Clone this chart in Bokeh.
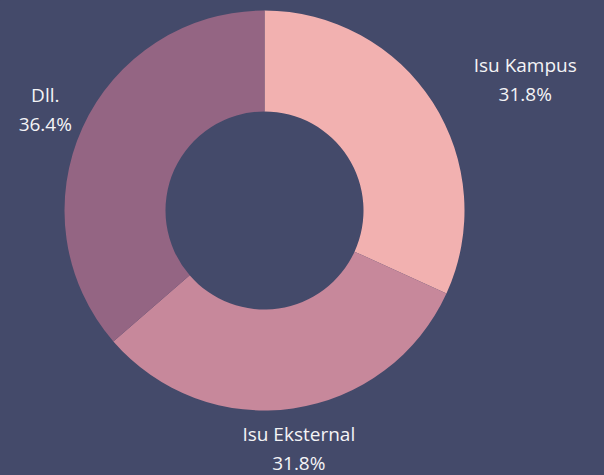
import math
from bokeh.plotting import figure
from bokeh.models import ColumnDataSource, Range1d
from bokeh.core.properties import value
from bokeh.embed import file_html
from bokeh.resources import INLINE

# ---- data ----
categories = ["Isu Kampus", "Isu Eksternal", "Dll."]
counts = [7, 7, 8]
colors = ["#F2B1B0", "#C7889B", "#946583"]

BG = "#444A6A"
W, H = 604, 475
CX, CY = 264, H - 210
R_OUT, R_IN, R_LAB = 200, 99, 241

total = sum(counts)
fracs = [c / total for c in counts]
starts, ends, mids = [], [], []
acc = 0.0
for f in fracs:
    a0 = acc * 2 * math.pi
    a1 = (acc + f) * 2 * math.pi
    starts.append(math.pi / 2 - a0)
    ends.append(math.pi / 2 - a1)
    mids.append(math.pi / 2 - (a0 + a1) / 2)
    acc += f

src = ColumnDataSource(dict(
    start=starts, end=ends, color=colors,
    x=[CX] * len(counts), y=[CY] * len(counts)))

p = figure(width=W, height=H, output_backend="svg", toolbar_location=None,
           x_range=Range1d(0, W), y_range=Range1d(0, H),
           min_border=0, background_fill_color=BG, border_fill_color=BG)
p.axis.visible = False
p.grid.visible = False
p.outline_line_color = None

p.annular_wedge(x="x", y="y", inner_radius=R_IN, outer_radius=R_OUT,
                start_angle="start", end_angle="end", direction="clock",
                fill_color="color", line_color=None, source=src)

lx = [CX + R_LAB * math.cos(m) for m in mids]
ly = [CY + R_LAB * math.sin(m) for m in mids]
# labels on the far right are pushed outward by half their width
xoff = [len(n) * 5.8 if (x - CX) > 150 else 0 for n, x in zip(categories, lx)]
pct = [f"{f*100:.1f}%" for f in fracs]

lab = ColumnDataSource(dict(x=lx, y=ly, name=categories, pct=pct, xoff=xoff))
font = value("Open Sans")
p.text(x="x", y="y", text="name", source=lab, text_align="center",
       x_offset="xoff", text_baseline="middle", y_offset=-15,
       text_color="#F4F4F6", text_font=font, text_font_size="19px")
p.text(x="x", y="y", text="pct", source=lab, text_align="center",
       x_offset="xoff", text_baseline="middle", y_offset=14,
       text_color="#F4F4F6", text_font=font, text_font_size="19px")

html = file_html(p, INLINE)
html = html.replace("<head>", "<head><style>html,body{margin:0;padding:0;background:%s;overflow:hidden}</style>" % BG, 1)
open("out.html", "w").write(html)
